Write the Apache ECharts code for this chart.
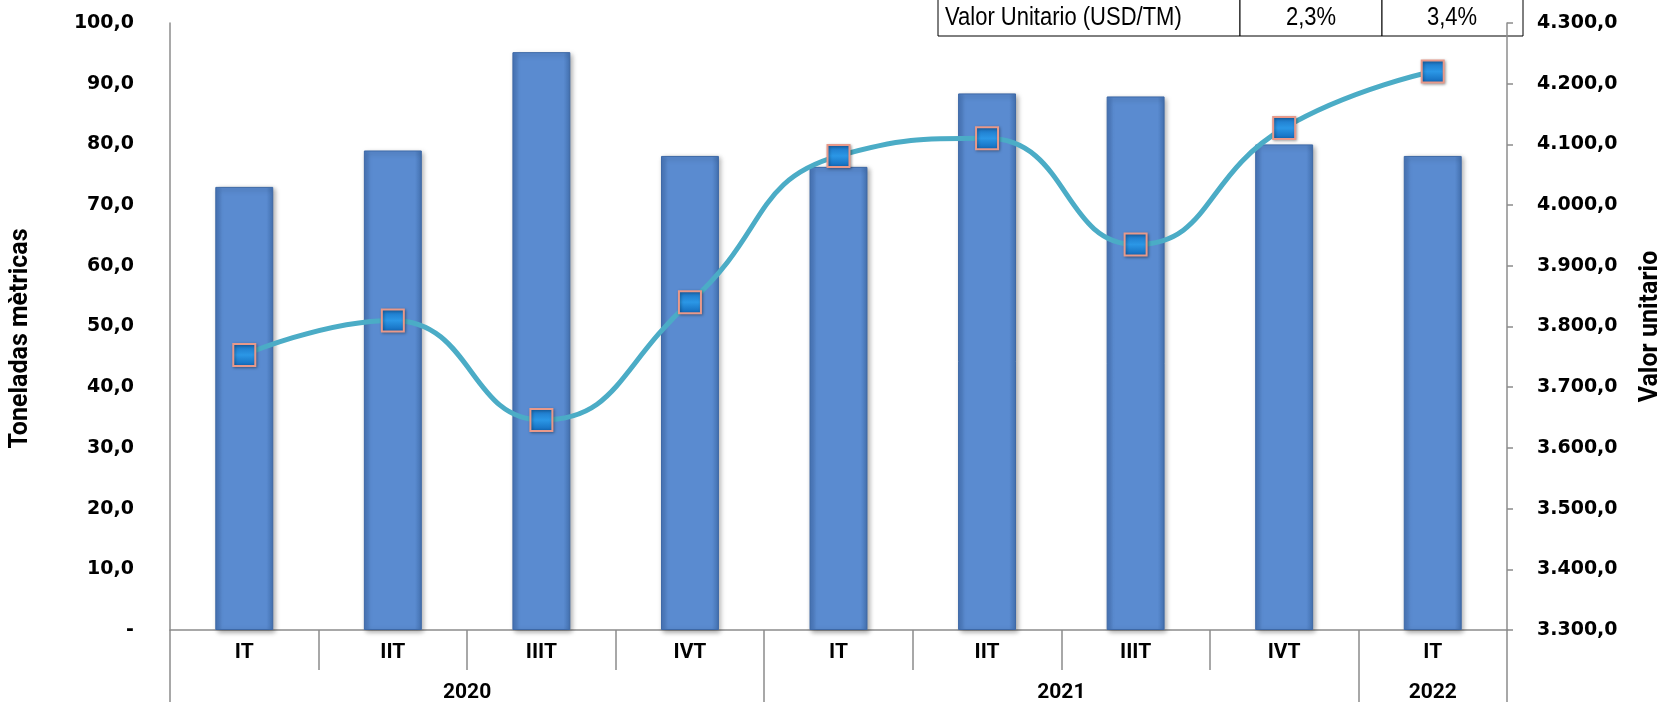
<!DOCTYPE html>
<html>
<head>
<meta charset="utf-8">
<style>
  html, body { margin: 0; padding: 0; background: #fff; }
  #chart { width: 1662px; height: 702px; }
</style>
<script src="https://cdn.jsdelivr.net/npm/echarts@6/dist/echarts.min.js"></script>
</head>
<body>
<div id="chart"></div>
<script>
  // datos
  var trimestres = ['IT', 'IIT', 'IIIT', 'IVT', 'IT', 'IIT', 'IIIT', 'IVT', 'IT'];
  var anios = ['2020', '2021', '2022'];
  var aniosSpan = [4, 4, 1];
  var toneladas = [73.0, 79.0, 95.2, 78.1, 76.3, 88.4, 87.9, 80.0, 78.1];
  var valorUnitario = [3753, 3810, 3646, 3840, 4081, 4110, 3935, 4127, 4220];
  var tablaTitulo = 'Valor Unitario (USD/TM)';
  var tablaValores = ['2,3%', '3,4%'];

  var boldFont = 'DejaVu Sans';
  var textFont = 'Roboto';
  var tablaFont = '25px "Liberation Sans", Arial, sans-serif';

  // limites y centros de los años, a partir de aniosSpan
  var limites = [0];
  var centros = [];
  aniosSpan.forEach(function (n, i) {
    centros.push(limites[i] + n / 2);
    limites.push(limites[i] + n);
  });

  function fmtNum(v) {
    var parts = v.toFixed(1).split('.');
    parts[0] = parts[0].replace(/\B(?=(\d{3})+(?!\d))/g, '.');
    return parts.join(',');
  }

  var myChart = echarts.init(document.getElementById('chart'));

  var gris = '#8c8c8c';

  var option = {
    animation: false,
    grid: { left: 170, right: 155, top: 23, bottom: 72, containLabel: false, outerBoundsMode: 'none' },
    xAxis: [
      {
        type: 'category',
        data: trimestres,
        axisLine: { lineStyle: { color: gris, width: 1.5 } },
        axisTick: { show: true, alignWithLabel: false, length: 40, lineStyle: { color: gris, width: 1.5 } },
        axisLabel: { margin: 12, color: '#000', fontFamily: textFont, fontWeight: 'bold', fontSize: 21 }
      },
      {
        type: 'value',
        min: 0,
        max: limites[limites.length - 1],
        position: 'bottom',
        axisLine: { show: false },
        splitLine: { show: false },
        axisTick: { show: true, length: 72, customValues: limites, lineStyle: { color: gris, width: 1.5 } },
        axisLabel: {
          margin: 52,
          customValues: centros,
          color: '#000', fontFamily: textFont, fontWeight: 'bold', fontSize: 21,
          formatter: function (v) {
            var i = centros.indexOf(v);
            return i >= 0 ? anios[i] : '';
          }
        }
      }
    ],
    yAxis: [
      {
        type: 'value',
        min: 0, max: 100, interval: 10,
        name: 'Toneladas mètricas',
        nameLocation: 'middle',
        nameGap: 137,
        nameTextStyle: { color: '#000', fontFamily: textFont, fontWeight: 'bold', fontSize: 25, padding: [0, 24, 0, 0] },
        axisLine: { show: true, lineStyle: { color: gris, width: 1.5 } },
        axisTick: { show: false },
        splitLine: { show: false },
        axisLabel: {
          margin: 36, color: '#000', fontFamily: boldFont, fontWeight: 'bold', fontSize: 19,
          formatter: function (v) { return v === 0 ? '-' : fmtNum(v); }
        }
      },
      {
        type: 'value',
        min: 3300, max: 4300, interval: 100,
        name: 'Valor unitario',
        nameLocation: 'middle',
        nameGap: 131,
        nameRotate: 90,
        nameTextStyle: { color: '#000', fontFamily: textFont, fontWeight: 'bold', fontSize: 25 },
        axisLine: { show: true, lineStyle: { color: gris, width: 1.5 } },
        axisTick: { show: true, length: 6, lineStyle: { color: gris, width: 1.5 } },
        splitLine: { show: false },
        axisLabel: {
          margin: 30, color: '#000', fontFamily: boldFont, fontWeight: 'bold', fontSize: 19,
          formatter: function (v) { return fmtNum(v); }
        }
      }
    ],
    series: [
      {
        type: 'bar',
        data: toneladas,
        barWidth: '39%',
        itemStyle: {
          color: new echarts.graphic.LinearGradient(0, 0, 1, 0, [
            { offset: 0, color: '#4775b8' },
            { offset: 0.12, color: '#5a8bd0' },
            { offset: 0.88, color: '#5a8bd0' },
            { offset: 1, color: '#4472b2' }
          ]),
          borderColor: '#3d68a6',
          borderWidth: 1,
          shadowBlur: 5,
          shadowColor: 'rgba(0,0,0,0.35)',
          shadowOffsetX: 2,
          shadowOffsetY: 2
        }
      },
      {
        type: 'line',
        yAxisIndex: 1,
        data: valorUnitario,
        smooth: 0.5,
        z: 5,
        lineStyle: { color: '#4bacc6', width: 5 },
        symbol: 'rect',
        symbolSize: 22,
        itemStyle: {
          color: new echarts.graphic.LinearGradient(0, 0, 0, 1, [
            { offset: 0, color: '#1a6fc0' },
            { offset: 0.5, color: '#2b97e6' },
            { offset: 1, color: '#1166b8' }
          ]),
          borderColor: '#e8998a',
          borderWidth: 2,
          shadowBlur: 3,
          shadowColor: 'rgba(0,0,0,0.35)',
          shadowOffsetX: 1,
          shadowOffsetY: 1
        }
      }
    ],
    graphic: [
      { type: 'rect', shape: { x: 938, y: -1, width: 302, height: 37 }, style: { fill: '#fff', stroke: '#000', lineWidth: 1 } },
      { type: 'rect', shape: { x: 1240, y: -1, width: 142, height: 37 }, style: { fill: '#fff', stroke: '#000', lineWidth: 1 } },
      { type: 'rect', shape: { x: 1382, y: -1, width: 141, height: 37 }, style: { fill: '#fff', stroke: '#000', lineWidth: 1 } },
      { type: 'text', x: 945, y: 18, scaleX: 0.88, style: { text: tablaTitulo, fill: '#000', font: tablaFont, verticalAlign: 'middle', align: 'left' } },
      { type: 'text', x: 1311, y: 18, scaleX: 0.88, style: { text: tablaValores[0], fill: '#000', font: tablaFont, verticalAlign: 'middle', align: 'center' } },
      { type: 'text', x: 1452, y: 18, scaleX: 0.88, style: { text: tablaValores[1], fill: '#000', font: tablaFont, verticalAlign: 'middle', align: 'center' } }
    ]
  };

  myChart.setOption(option);
</script>
</body>
</html>
